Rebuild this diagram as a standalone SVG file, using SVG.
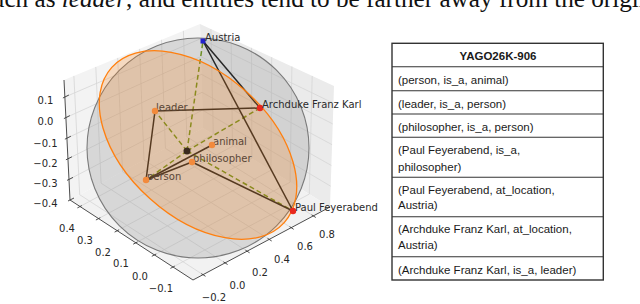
<svg xmlns="http://www.w3.org/2000/svg" width="640" height="304" viewBox="0 0 640 304">
<style>
.grid{stroke:#d6d6d6;stroke-width:0.8}
.axis{stroke:#3a3a3a;stroke-width:0.9;fill:none}
.tick{stroke:#3a3a3a;stroke-width:0.9}
.tl{font-family:"DejaVu Sans",sans-serif;font-size:10px;fill:#262626;text-anchor:middle}
.rel{stroke:#262626;stroke-width:1.5;fill:none}
.dash{stroke:#6b8e23;stroke-width:1.5;stroke-dasharray:5 3;fill:none}
.lbl{font-family:"DejaVu Sans",sans-serif;font-size:10px;fill:#2a2a2a}
.lbl-in{fill:#5a4636}
.pt{fill:#f28a3c}
.red{fill:#e8281e}
.cell{font-family:"Liberation Sans",Arial,sans-serif;font-size:11.5px;fill:#1a1a1a}
.row{stroke:#333;stroke-width:1.1}
</style>
<rect width="640" height="304" fill="#ffffff"/>
<text font-family="Liberation Serif, serif" font-size="25.2" fill="#111" x="-18" y="6.5">such as <tspan font-style="italic">leader</tspan>, and entities tend to be farther away from the origin</text>
<g id="panes">
<polygon points="64,80 200,24 203,128 70,200" fill="#f3f3f3"/>
<polygon points="200,24 334,86 330,207 203,128" fill="#ebebeb"/>
<polygon points="70,200 203,128 330,207 193,280" fill="#f2f2f2"/>
<g class="grid">
<line x1="69" y1="179.4" x2="202.5" y2="110.1"/><line x1="67.9" y1="158.8" x2="202" y2="92.3"/><line x1="66.9" y1="138.2" x2="201.5" y2="74.4"/><line x1="65.9" y1="117.6" x2="200.9" y2="56.6"/><line x1="64.9" y1="97" x2="200.4" y2="38.8"/>
<line x1="79.7" y1="194.7" x2="73.9" y2="75.9"/><line x1="101.1" y1="183.2" x2="95.8" y2="66.9"/><line x1="122.5" y1="171.6" x2="117.7" y2="57.9"/><line x1="144" y1="160" x2="139.6" y2="48.9"/><line x1="165.4" y1="148.4" x2="161.5" y2="39.8"/><line x1="186.8" y1="136.8" x2="183.4" y2="30.8"/>
<line x1="202.5" y1="110.1" x2="330.7" y2="186.2"/><line x1="202" y1="92.3" x2="331.4" y2="165.5"/><line x1="201.5" y1="74.4" x2="332.1" y2="144.7"/><line x1="200.9" y1="56.6" x2="332.7" y2="123.9"/><line x1="200.4" y1="38.8" x2="333.4" y2="103.2"/>
<line x1="213.3" y1="134.4" x2="210.9" y2="29"/><line x1="232.5" y1="146.3" x2="231.1" y2="38.4"/><line x1="251.8" y1="158.3" x2="251.5" y2="47.8"/><line x1="270.9" y1="170.3" x2="271.7" y2="57.2"/><line x1="290.1" y1="182.2" x2="291.9" y2="66.5"/><line x1="309.3" y1="194.1" x2="312.2" y2="75.9"/>
<line x1="80" y1="206.5" x2="213.3" y2="134.4"/><line x1="98.5" y1="218.6" x2="232.5" y2="146.3"/><line x1="117.2" y1="230.7" x2="251.8" y2="158.3"/><line x1="135.8" y1="242.8" x2="270.9" y2="170.3"/><line x1="154.4" y1="254.9" x2="290.1" y2="182.2"/><line x1="173" y1="267" x2="309.3" y2="194.1"/>
<line x1="203" y1="274.7" x2="79.7" y2="194.7"/><line x1="225.1" y1="262.9" x2="101.1" y2="183.2"/><line x1="247.1" y1="251.2" x2="122.5" y2="171.6"/><line x1="269.2" y1="239.4" x2="144" y2="160"/><line x1="291.2" y1="227.7" x2="165.4" y2="148.4"/><line x1="313.3" y1="215.9" x2="186.8" y2="136.8"/>
</g>
</g>
<g id="axes">
<polyline class="axis" points="64,80 70,200 193,280 330,207"/>
<g class="tick">
<line x1="68" y1="201" x2="74" y2="198"/><line x1="67" y1="180.4" x2="73" y2="177.4"/><line x1="65.9" y1="159.8" x2="71.9" y2="156.8"/><line x1="64.9" y1="139.2" x2="70.9" y2="136.2"/><line x1="63.9" y1="118.6" x2="69.9" y2="115.6"/><line x1="62.9" y1="98" x2="68.9" y2="95"/>
<line x1="77.4" y1="207.9" x2="81.8" y2="205.6"/><line x1="95.9" y1="220" x2="100.3" y2="217.7"/><line x1="114.6" y1="232.1" x2="119" y2="229.8"/><line x1="133.2" y1="244.2" x2="137.6" y2="241.9"/><line x1="151.8" y1="256.3" x2="156.2" y2="254"/><line x1="170.4" y1="268.4" x2="174.8" y2="266.1"/>
<line x1="201.3" y1="273.6" x2="205.5" y2="276.3"/><line x1="223.4" y1="261.8" x2="227.6" y2="264.5"/><line x1="245.4" y1="250.1" x2="249.6" y2="252.8"/><line x1="267.5" y1="238.3" x2="271.7" y2="241"/><line x1="289.5" y1="226.6" x2="293.7" y2="229.3"/><line x1="311.6" y1="214.8" x2="315.8" y2="217.5"/>
</g>
<text class="tl" x="45.5" y="104">0.1</text><text class="tl" x="45.5" y="125">0.0</text><text class="tl" x="45.5" y="147">−0.1</text><text class="tl" x="45.5" y="167">−0.2</text><text class="tl" x="45.5" y="187">−0.3</text><text class="tl" x="45.5" y="207">−0.4</text>
<text class="tl" x="67" y="232">0.4</text><text class="tl" x="85" y="244">0.3</text><text class="tl" x="103" y="256">0.2</text><text class="tl" x="121" y="267">0.1</text><text class="tl" x="140" y="280">0.0</text><text class="tl" x="161" y="292">−0.1</text>
<text class="tl" x="214" y="301">−0.2</text><text class="tl" x="237.5" y="289">0.0</text><text class="tl" x="260" y="276">0.2</text><text class="tl" x="282" y="263">0.4</text><text class="tl" x="305" y="250">0.6</text><text class="tl" x="327" y="238">0.8</text>
</g>
<ellipse id="sphere" cx="198" cy="148" rx="111" ry="110" fill="#999999" fill-opacity="0.3" stroke="#7a7a7a" stroke-width="1.1"/>
<g id="connectors">
<g class="dash">
<line x1="187" y1="151" x2="203" y2="41"/><line x1="187" y1="151" x2="155" y2="111"/><line x1="187" y1="151" x2="260" y2="108"/><line x1="187" y1="151" x2="146" y2="180"/><line x1="187" y1="151" x2="293" y2="211"/>
</g>
<g class="rel">
<line x1="203" y1="41" x2="260" y2="108"/>
<line x1="203" y1="41" x2="293" y2="211"/>
<line x1="155" y1="111" x2="260" y2="108"/>
<line x1="155" y1="111" x2="146" y2="180"/>
<line x1="146" y1="180" x2="212" y2="145"/>
<line x1="146" y1="180" x2="192" y2="162"/>
<line x1="192" y1="162" x2="293" y2="211"/>
</g>
</g>
<ellipse id="disk" cx="198" cy="145" rx="116" ry="72" transform="rotate(42 198 145)" fill="#ff7f0e" fill-opacity="0.22" stroke="#ff7f0e" stroke-width="1.3"/>
<g id="node-origin"><circle cx="187" cy="151" r="3.5" fill="#3a2a1e"/></g>
<g id="node-austria"><rect x="200.5" y="38.5" width="5" height="5" fill="#2222cc"/><text class="lbl" x="205" y="41">Austria</text></g>
<g id="node-archduke"><circle class="red" cx="260" cy="108" r="3.2"/><text class="lbl" x="262" y="108">Archduke Franz Karl</text></g>
<g id="node-paul"><circle class="red" cx="293" cy="211" r="3.2"/><text class="lbl" x="295" y="211">Paul Feyerabend</text></g>
<g id="node-leader"><text class="lbl lbl-in" x="156" y="111">leader</text><circle class="pt" cx="155" cy="111" r="3.2"/></g>
<g id="node-animal"><text class="lbl lbl-in" x="213" y="145">animal</text><circle class="pt" cx="212" cy="145" r="3.2"/></g>
<g id="node-philosopher"><text class="lbl lbl-in" x="193" y="162">philosopher</text><circle class="pt" cx="192" cy="162" r="3.2"/></g>
<g id="node-person"><text class="lbl lbl-in" x="147" y="180">person</text><circle class="pt" cx="146" cy="180" r="3.2"/></g>
<g id="table">
<rect x="392" y="43.3" width="211.3" height="236.7" fill="#ffffff" stroke="#333" stroke-width="1.4"/>
<g class="row">
<line x1="392" y1="66.7" x2="603.3" y2="66.7"/><line x1="392" y1="90.7" x2="603.3" y2="90.7"/><line x1="392" y1="114" x2="603.3" y2="114"/><line x1="392" y1="137.3" x2="603.3" y2="137.3"/><line x1="392" y1="177.3" x2="603.3" y2="177.3"/><line x1="392" y1="216.7" x2="603.3" y2="216.7"/><line x1="392" y1="256.7" x2="603.3" y2="256.7"/>
</g>
<text class="cell" x="498" y="60" text-anchor="middle" font-weight="bold">YAGO26K-906</text>
<text class="cell" x="398" y="84">(person, is_a, animal)</text>
<text class="cell" x="398" y="108">(leader, is_a, person)</text>
<text class="cell" x="398" y="131">(philosopher, is_a, person)</text>
<text class="cell" x="398" y="153.5">(Paul Feyerabend, is_a,</text>
<text class="cell" x="398" y="170.5">philosopher)</text>
<text class="cell" x="398" y="193.5">(Paul Feyerabend, at_location,</text>
<text class="cell" x="398" y="209">Austria)</text>
<text class="cell" x="398" y="233">(Archduke Franz Karl, at_location,</text>
<text class="cell" x="398" y="248.5">Austria)</text>
<text class="cell" x="398" y="273.5">(Archduke Franz Karl, is_a, leader)</text>
</g>
</svg>
